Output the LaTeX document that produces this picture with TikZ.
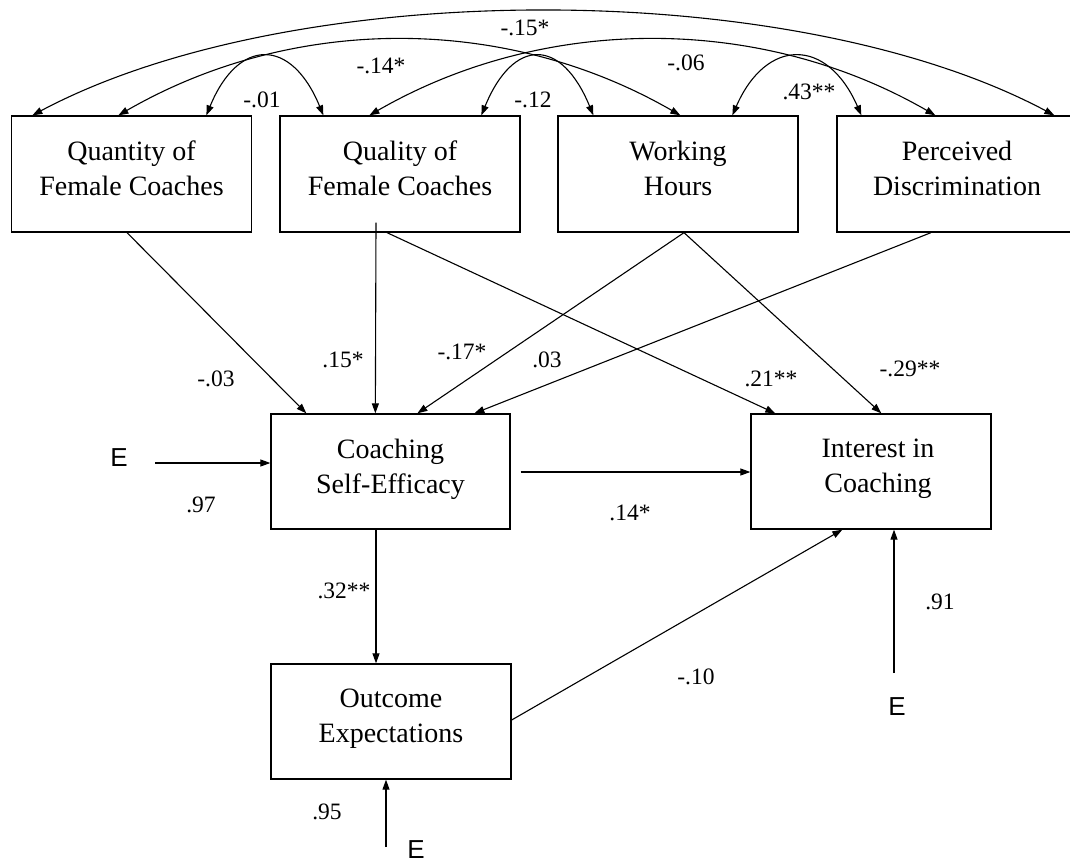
\documentclass[tikz,border=0pt]{standalone}
\usepackage{fontspec}
\setmainfont{Liberation Serif}
\newfontfamily\efont{Liberation Sans}
\usetikzlibrary{arrows.meta}
\begin{document}
\begin{tikzpicture}[x=1pt,y=-1pt,
  box/.style={draw=black, line width=1.3pt, minimum width=240pt, minimum height=116pt,
    align=center, inner sep=0pt, text depth=11pt, font=\fontsize{28}{35}\selectfont},
  lab/.style={inner sep=0pt, font=\fontsize{23.5}{28}\selectfont},
  etxt/.style={inner sep=0pt, font=\efont\fontsize{26}{30}\selectfont},
  arr/.style={line width=1.1pt, -{Triangle[length=10pt,width=7pt]}},
  dbl/.style={line width=1.1pt, {Triangle[length=10pt,width=7pt]}-{Triangle[length=10pt,width=7pt]}},
]
\useasboundingbox (0,0) rectangle (1070,864);

% boxes
\node[box] (q1) at (131.5,174) {Quantity of\\Female Coaches};
\node[box] (q2) at (400,174) {Quality of\\Female Coaches};
\node[box] (q3) at (678,174) {Working\\Hours};
\node[box] (q4) at (957,174) {Perceived\\Discrimination};
\node[box, minimum width=239pt, minimum height=115pt] (cse) at (390.5,471.5) {Coaching\\Self-Efficacy};
\node[box, minimum width=240pt, minimum height=115pt] (int) at (871,471.5) {\hspace*{14pt}Interest in\\\hspace*{14pt}Coaching};
\node[box, minimum width=240pt, minimum height=115pt] (oe) at (391,721.5) {Outcome\\Expectations};

% error terms
\node[etxt] (e1) at (119,458) {E};
\node[etxt] (e2) at (416,850) {E};
\node[etxt] (e3) at (897,707) {E};
\coordinate (e1s) at (155,463);
\coordinate (e2s) at (386,847);
\coordinate (e3s) at (894,673);

% correlations
\draw[dbl] ([xshift=21.5pt]q1.north west) .. controls +(261,-139) and +(-261,-139) .. ([xshift=218pt]q4.north west);
\draw[dbl] ([xshift=107.5pt]q1.north west) .. controls +(175,-101) and +(-175,-101) .. ([xshift=123pt]q3.north west);
\draw[dbl] ([xshift=90pt]q2.north west) .. controls +(175,-101) and +(-175,-101) .. ([xshift=99pt]q4.north west);
\draw[dbl] ([xshift=195.5pt]q1.north west) .. controls +(32,-78) and +(-32,-78) .. ([xshift=44pt]q2.north west);
\draw[dbl] ([xshift=202pt]q2.north west) .. controls +(32,-78) and +(-32,-78) .. ([xshift=36pt]q3.north west);
\draw[dbl] ([xshift=175pt]q3.north west) .. controls +(34,-78) and +(-34,-78) .. ([xshift=25pt]q4.north west);

% paths
\draw[arr] ([xshift=-4.5pt]q1.south) -- ([xshift=36pt]cse.north west);
\draw[arr] ([xshift=-24pt,yshift=10pt]q2.south) -- ([xshift=105pt]cse.north west);
\draw[arr] ([xshift=-13pt]q2.south) -- ([xshift=25pt]int.north west);
\draw[arr] ([xshift=6pt]q3.south) -- ([xshift=147pt]cse.north west);
\draw[arr] ([xshift=6pt]q3.south) -- ([xshift=131pt]int.north west);
\draw[arr] ([xshift=-26pt]q4.south) -- ([xshift=204pt]cse.north west);
\draw[arr] ([xshift=10pt,yshift=-0.5pt]cse.east) -- ([yshift=-0.5pt]int.west);
\draw[arr] ([xshift=-14.5pt]cse.south) -- ([xshift=-14.5pt]cse.south |- oe.north);
\draw[arr] ([yshift=1.5pt]oe.east) -- ([xshift=92pt]int.south west);
\draw[arr] (e1s) -- (e1s -| cse.west);
\draw[arr] (e2s) -- (e2s |- oe.south);
\draw[arr] (e3s) -- (e3s |- int.south);

% labels
\node[lab] (l1) at (525,28) {-.15*};
\node[lab] (l2) at (381,66) {-.14*};
\node[lab] (l3) at (262,100) {-.01};
\node[lab] (l4) at (533,100) {-.12};
\node[lab] (l5) at (686,63) {-.06};
\node[lab] (l6) at (809,92) {.43**};
\node[lab] (l7) at (216,379) {-.03};
\node[lab] (l8) at (343,360) {.15*};
\node[lab] (l9) at (462,352) {-.17*};
\node[lab] (l10) at (547,360) {.03};
\node[lab] (l11) at (771,379) {.21**};
\node[lab] (l12) at (910,369) {-.29**};
\node[lab] (l13) at (630,513) {.14*};
\node[lab] (l14) at (201,505) {.97};
\node[lab] (l15) at (344,591) {.32**};
\node[lab] (l16) at (696,677) {-.10};
\node[lab] (l17) at (940,602) {.91};
\node[lab] (l18) at (327,812) {.95};
\end{tikzpicture}
\end{document}
